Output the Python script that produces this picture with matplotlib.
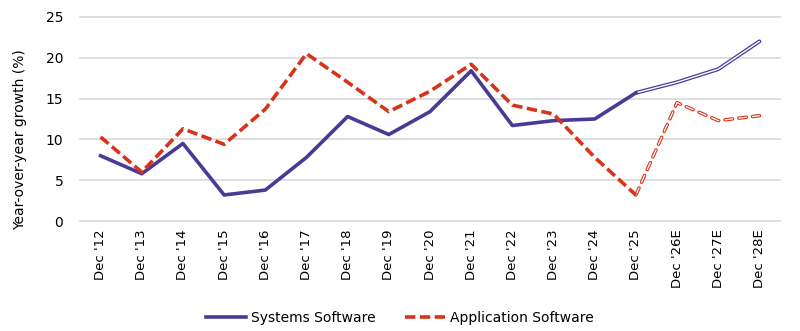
import numpy as np
import matplotlib.pyplot as plt

# data
years = ["Dec '12", "Dec '13", "Dec '14", "Dec '15", "Dec '16", "Dec '17", "Dec '18", "Dec '19",
         "Dec '20", "Dec '21", "Dec '22", "Dec '23", "Dec '24", "Dec '25", "Dec '26E", "Dec '27E", "Dec '28E"]
systems = [8.0, 5.8, 9.5, 3.2, 3.8, 7.8, 12.8, 10.6, 13.4, 18.4, 11.7, 12.3, 12.5, 15.7, 17.0, 18.6, 22.0]
application = [10.3, 6.0, 11.3, 9.4, 13.7, 20.5, 17.0, 13.4, 15.9, 19.2, 14.2, 13.1, 7.8, 3.2, 14.5, 12.3, 12.9]
n_actual = 14  # up to Dec '25

purple = '#4a3a96'
red = '#d8341c'

plt.rcParams['font.family'] = ['DejaVu Sans']
plt.rcParams['lines.scale_dashes'] = False

fig = plt.figure(figsize=(8, 3.31), dpi=100)
ax = fig.add_axes([0.1, 0.332, 0.875, 0.617])

x = np.arange(len(years))

# actuals
ax.plot(x[:n_actual], systems[:n_actual], color=purple, lw=2.6, label='Systems Software', zorder=3)
ax.plot(x[:n_actual], application[:n_actual], color=red, lw=2.6, linestyle=(0, (7.5, 3.2)),
        label='Application Software', zorder=3)

# forecasts: hollow lines
fx = x[n_actual - 1:]
ax.plot(fx, systems[n_actual - 1:], color=purple, lw=2.8, zorder=2, solid_capstyle='round')
ax.plot(fx, systems[n_actual - 1:], color='white', lw=1.0, zorder=2, solid_capstyle='round')
ax.plot(fx, application[n_actual - 1:], color=red, lw=2.5, zorder=2,
        linestyle=(0, (5.5, 4.5)), dash_capstyle='round')
ax.plot(fx, application[n_actual - 1:], color='white', lw=0.9, zorder=2,
        linestyle=(0, (5.5, 4.5)), dash_capstyle='round')

ax.set_xlim(-0.5, 16.5)
ax.set_ylim(0, 25)
ax.set_yticks(range(0, 26, 5))
ax.set_xticks(x)
ax.set_xticklabels(years, rotation=90, fontsize=9.5)
ax.tick_params(axis='y', labelsize=10, length=0, pad=12)
ax.tick_params(axis='x', length=0, pad=6)
ax.grid(axis='y', color='#d9d9d9', lw=1.2)
for gl in ax.get_ygridlines():
    gl.set_clip_on(False)
ax.set_axisbelow(True)
for s in ax.spines.values():
    s.set_visible(False)
ax.set_ylabel('Year-over-year growth (%)', fontsize=10, labelpad=8)
ax.yaxis.set_label_coords(-0.075, 0.4)

fig.legend(loc='center', ncol=2, frameon=False, fontsize=10,
           bbox_to_anchor=(0.5, 0.04), handlelength=2.9, handletextpad=0.35, columnspacing=2.1)

fig.savefig('out.png', dpi=100)
